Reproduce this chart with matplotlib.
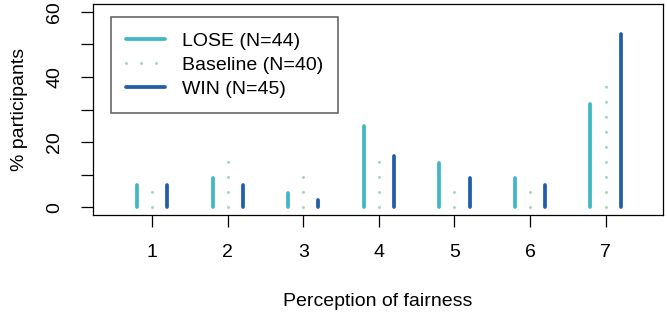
import matplotlib
matplotlib.use("Agg")
import matplotlib.pyplot as plt
import numpy as np
from matplotlib.lines import Line2D

plt.rcParams['font.family'] = ['Liberation Sans', 'DejaVu Sans']

categories = [1, 2, 3, 4, 5, 6, 7]
lose_pct = [6.8, 9.1, 4.5, 25.0, 13.6, 9.1, 31.8]
baseline_pct = [5.0, 15.0, 10.0, 15.0, 5.0, 5.0, 37.5]
win_pct = [6.7, 6.7, 2.2, 15.6, 8.9, 6.7, 53.3]
labels = ["LOSE (N=44)", "Baseline (N=40)", "WIN (N=45)"]
colors = ["#41b6c4", "#a1dab4", "#225ea8"]

W, H = 667, 313
fig = plt.figure(figsize=(W / 100, H / 100), dpi=100)
ax = fig.add_axes([93.3 / W, 1 - 215 / H, (663 - 93.3) / W, (215 - 4) / H])

x = np.array(categories, dtype=float)
off = 0.2
solid_lw = 2.7
dot_lw = 2.2
dot_period_pt = 15 * 72 / 100.0
dot_dashes = (0.01, dot_period_pt / dot_lw)

for xi, v in zip(x - off, lose_pct):
    ax.plot([xi, xi], [0, v], color=colors[0], lw=solid_lw, solid_capstyle='round')
for xi, v in zip(x, baseline_pct):
    ax.plot([xi, xi], [0, v], color=colors[1], lw=dot_lw,
            dashes=dot_dashes, dash_capstyle='round')
for xi, v in zip(x + off, win_pct):
    ax.plot([xi, xi], [0, v], color=colors[2], lw=solid_lw, solid_capstyle='round')

ax.set_xlim(0.22, 7.76)
ax.set_ylim(-2.4, 62.4)

ax.set_xticks(categories)
ax.set_xticklabels([str(c) for c in categories])
ax.set_yticks(np.arange(0, 61, 10))
ax.set_yticklabels(["0", "", "20", "", "40", "", "60"], rotation=90, va='center')

ax.tick_params(axis='both', direction='out', length=8.6, width=0.9,
               labelsize=14, color='black')
ax.tick_params(axis='x', pad=12)
ax.tick_params(axis='y', pad=13)
for s in ax.spines.values():
    s.set_linewidth(0.9)
    s.set_color('black')

ax.set_xlabel("Perception of fairness", fontsize=14, labelpad=23)
ax.set_ylabel("% participants", fontsize=14, labelpad=13)

handles = [
    Line2D([0], [0], color=colors[0], lw=solid_lw, solid_capstyle='round'),
    Line2D([0], [0], color=colors[1], lw=dot_lw, dashes=dot_dashes,
           dash_capstyle='round'),
    Line2D([0], [0], color=colors[2], lw=solid_lw, solid_capstyle='round'),
]
leg = ax.legend(handles, labels, loc='upper left',
                bbox_to_anchor=((110.7 - 93.3) / (663 - 93.3), 1 - (16.7 - 4) / (215 - 4)),
                fontsize=14, frameon=True, fancybox=False, edgecolor='#333333',
                handlelength=2.0, handletextpad=0.85, labelspacing=0.33,
                borderpad=0.8, borderaxespad=0)
leg.get_frame().set_linewidth(1.1)

fig.savefig("out.png", dpi=100)
